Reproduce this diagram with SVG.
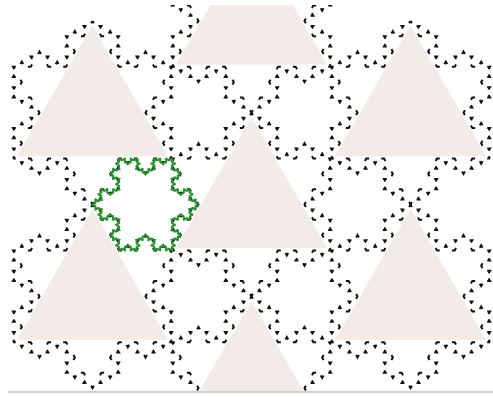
<svg xmlns="http://www.w3.org/2000/svg" width="493" height="397" viewBox="0 0 493 397">
<style>
.tri{fill:#f3ebe7}
.bk{fill:none;stroke:#111;stroke-width:0.68;stroke-dasharray:1.9 2.1;stroke-dashoffset:0.95;stroke-linejoin:miter}
.gr{fill:none;stroke:#22962a;stroke-width:1.25;stroke-linejoin:round}
</style>
<defs>
<clipPath id="clip"><rect x="0" y="5" width="493" height="386"/></clipPath>
<path id="k" d="M0 0h2l1-1.7321 1 1.7321h2l1-1.7321-1-1.7321h2l1-1.7321l1 1.7321h2l-1 1.7321 1 1.7321h2l1-1.7321 1 1.7321h2l1-1.7321-1-1.7321h2l1-1.7321l-1-1.7321h-2l1-1.7321-1-1.7321h2l1-1.7321 1 1.7321h2l1-1.7321-1-1.7321h2l1-1.7321l1 1.7321h2l-1 1.7321 1 1.7321h2l1-1.7321 1 1.7321h2l-1 1.7321 1 1.7321h-2l-1 1.7321l1 1.7321h2l-1 1.7321 1 1.7321h2l1-1.7321 1 1.7321h2l1-1.7321-1-1.7321h2l1-1.7321l1 1.7321h2l-1 1.7321 1 1.7321h2l1-1.7321 1 1.7321h2"/>
<g id="sf">
<use href="#k" transform="translate(0 -31.177) rotate(60)"/>
<use href="#k" transform="translate(27 15.588) rotate(180)"/>
<use href="#k" transform="translate(-27 15.588) rotate(-60)"/>
</g>
<polygon id="t" points="0,-29.62 25.65,14.81 -25.65,14.81"/>
</defs>
<g id="tiling" clip-path="url(#clip)">
<g id="cell-tl"><use class="tri" href="#t" transform="translate(92.5 112.7) scale(2.9444)"/><use class="bk" href="#sf" transform="translate(92.5 112.7) scale(2.9444)"/></g>
<g id="cell-tm"><use class="tri" href="#t" transform="translate(251.5 20.9) scale(2.9444)"/><use class="bk" href="#sf" transform="translate(251.5 20.9) scale(2.9444)"/></g>
<g id="cell-tr"><use class="tri" href="#t" transform="translate(410.5 112.7) scale(2.9444)"/><use class="bk" href="#sf" transform="translate(410.5 112.7) scale(2.9444)"/></g>
<g id="cell-m"><use class="tri" href="#t" transform="translate(251.5 204.5) scale(2.9444)"/><use class="bk" href="#sf" transform="translate(251.5 204.5) scale(2.9444)"/></g>
<g id="cell-bl"><use class="tri" href="#t" transform="translate(92.5 296.3) scale(2.9444)"/><use class="bk" href="#sf" transform="translate(92.5 296.3) scale(2.9444)"/></g>
<g id="cell-br"><use class="tri" href="#t" transform="translate(410.5 296.3) scale(2.9444)"/><use class="bk" href="#sf" transform="translate(410.5 296.3) scale(2.9444)"/></g>
<g id="cell-bm"><use class="tri" href="#t" transform="translate(251.5 388.1) scale(2.9444)"/><use class="bk" href="#sf" transform="translate(251.5 388.1) scale(2.9444)"/></g>
<g id="flake-green"><use class="gr" href="#sf" transform="translate(145.5 204.5) rotate(90) scale(1.7)"/></g>
</g>
<line id="baseline" x1="8" y1="392" x2="493" y2="392" stroke="#d0d0d0" stroke-width="2"/>
</svg>
